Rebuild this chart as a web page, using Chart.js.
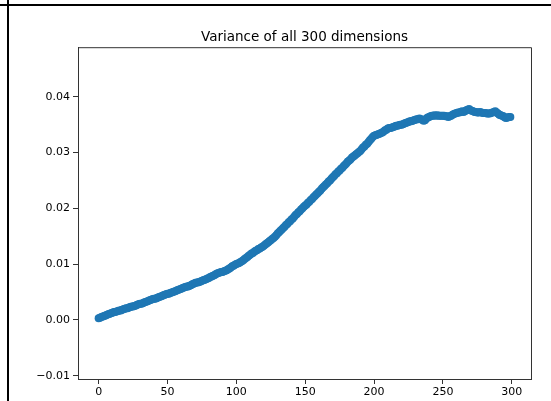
<!DOCTYPE html>
<html>
<head>
<meta charset="utf-8">
<script src="https://cdn.jsdelivr.net/npm/chart.js@4/dist/chart.umd.min.js"></script>
<style>
  html, body { margin: 0; padding: 0; background: #fff; }
  #wrap { position: relative; width: 551px; height: 401px; overflow: hidden; }
  #chart { position: absolute; left: 0; top: 0; }
  .hline { position: absolute; left: 0; top: 4px; width: 551px; height: 2px; background: #000; }
  .vline { position: absolute; left: 7px; top: 0; width: 2px; height: 401px; background: #000; }
</style>
</head>
<body>
<div id="wrap">
  <canvas id="chart" width="551" height="401"></canvas>
  <div class="hline"></div>
  <div class="vline"></div>
</div>
<script>
// variance per step (300 points, step 0..299)
var variance = [
  0.0003, 0.0004, 0.0005, 0.0006, 0.0007, 0.0008, 0.0009, 0.0010, 0.0011, 0.0012,
  0.0013, 0.0014, 0.0014, 0.0015, 0.0016, 0.0017, 0.0017, 0.0018, 0.0019, 0.0020,
  0.0021, 0.0021, 0.0022, 0.0023, 0.0024, 0.0024, 0.0025, 0.0026, 0.0027, 0.0028,
  0.0029, 0.0029, 0.0030, 0.0031, 0.0032, 0.0033, 0.0034, 0.0035, 0.0036, 0.0037,
  0.0038, 0.0038, 0.0039, 0.0040, 0.0041, 0.0042, 0.0043, 0.0044, 0.0045, 0.0046,
  0.0047, 0.0047, 0.0048, 0.0049, 0.0050, 0.0051, 0.0052, 0.0053, 0.0054, 0.0055,
  0.0056, 0.0057, 0.0058, 0.0059, 0.0060, 0.0060, 0.0061, 0.0062, 0.0064, 0.0065,
  0.0066, 0.0067, 0.0067, 0.0068, 0.0069, 0.0070, 0.0071, 0.0072, 0.0073, 0.0074,
  0.0075, 0.0077, 0.0078, 0.0079, 0.0080, 0.0082, 0.0083, 0.0084, 0.0085, 0.0086,
  0.0086, 0.0087, 0.0088, 0.0089, 0.0091, 0.0092, 0.0094, 0.0096, 0.0097, 0.0099,
  0.0100, 0.0101, 0.0102, 0.0104, 0.0105, 0.0107, 0.0109, 0.0111, 0.0113, 0.0115,
  0.0117, 0.0119, 0.0120, 0.0122, 0.0124, 0.0125, 0.0127, 0.0128, 0.0130, 0.0131,
  0.0133, 0.0135, 0.0137, 0.0139, 0.0141, 0.0143, 0.0145, 0.0147, 0.0149, 0.0152,
  0.0155, 0.0157, 0.0160, 0.0162, 0.0165, 0.0167, 0.0170, 0.0172, 0.0175, 0.0177,
  0.0180, 0.0182, 0.0185, 0.0188, 0.0190, 0.0193, 0.0195, 0.0198, 0.0200, 0.0203,
  0.0205, 0.0207, 0.0210, 0.0212, 0.0215, 0.0217, 0.0220, 0.0222, 0.0225, 0.0227,
  0.0230, 0.0232, 0.0235, 0.0238, 0.0240, 0.0243, 0.0245, 0.0248, 0.0250, 0.0253,
  0.0256, 0.0258, 0.0261, 0.0263, 0.0266, 0.0268, 0.0271, 0.0273, 0.0276, 0.0278,
  0.0281, 0.0284, 0.0286, 0.0288, 0.0291, 0.0293, 0.0295, 0.0297, 0.0299, 0.0301,
  0.0303, 0.0306, 0.0309, 0.0311, 0.0314, 0.0316, 0.0319, 0.0322, 0.0325, 0.0328,
  0.0330, 0.0331, 0.0332, 0.0333, 0.0334, 0.0335, 0.0336, 0.0338, 0.0340, 0.0341,
  0.0343, 0.0344, 0.0344, 0.0345, 0.0346, 0.0347, 0.0348, 0.0348, 0.0349, 0.0350,
  0.0350, 0.0351, 0.0352, 0.0353, 0.0354, 0.0355, 0.0356, 0.0356, 0.0357, 0.0358,
  0.0359, 0.0360, 0.0360, 0.0361, 0.0360, 0.0359, 0.0357, 0.0358, 0.0361, 0.0363,
  0.0364, 0.0365, 0.0366, 0.0366, 0.0367, 0.0366, 0.0367, 0.0366, 0.0366, 0.0366,
  0.0366, 0.0366, 0.0365, 0.0365, 0.0364, 0.0365, 0.0366, 0.0368, 0.0369, 0.0370,
  0.0371, 0.0372, 0.0372, 0.0373, 0.0374, 0.0373, 0.0374, 0.0376, 0.0377, 0.0378,
  0.0376, 0.0375, 0.0374, 0.0373, 0.0373, 0.0372, 0.0372, 0.0373, 0.0372, 0.0371,
  0.0371, 0.0371, 0.0370, 0.0370, 0.0370, 0.0371, 0.0372, 0.0373, 0.0374, 0.0372,
  0.0370, 0.0368, 0.0367, 0.0366, 0.0365, 0.0363, 0.0362, 0.0363, 0.0364, 0.0364
];

var xTicks = [0, 50, 100, 150, 200, 250, 300];
var yTicks = [-0.01, 0.00, 0.01, 0.02, 0.03, 0.04];

var points = variance.map(function (v, i) { return { x: i, y: v }; });

// top and right spines (chart.js only draws the axis lines)
var frame = {
  id: "frame",
  afterDraw: function (chart) {
    var a = chart.chartArea, ctx = chart.ctx;
    ctx.save();
    ctx.strokeStyle = "#333";
    ctx.lineWidth = 1;
    ctx.beginPath();
    ctx.moveTo(a.left, a.top + 0.5);
    ctx.lineTo(a.right + 0.5, a.top + 0.5);
    ctx.lineTo(a.right + 0.5, a.bottom);
    ctx.stroke();
    ctx.restore();
  }
};

var tickFont = { family: "DejaVu Sans", size: 11 };

new Chart(document.getElementById("chart").getContext("2d"), {
  type: "scatter",
  data: {
    datasets: [{
      data: points,
      backgroundColor: "#1f77b4",
      borderWidth: 0,
      pointRadius: 4,
      pointHoverRadius: 4
    }]
  },
  options: {
    responsive: false,
    animation: false,
    layout: { padding: { left: 0, right: 20, top: 0, bottom: 0 } },
    plugins: {
      legend: { display: false },
      tooltip: { enabled: false },
      title: {
        display: true,
        fullSize: false,
        text: "Variance of all 300 dimensions",
        color: "#000",
        font: { family: "DejaVu Sans", size: 13.5, weight: "normal" },
        padding: { top: 29, bottom: 2 }
      }
    },
    scales: {
      x: {
        type: "linear",
        min: -15,
        max: 314,
        border: { display: true, color: "#333", width: 1 },
        grid: { display: true, drawOnChartArea: false, drawTicks: true, tickLength: 5, color: "#333" },
        afterBuildTicks: function (s) { s.ticks = xTicks.map(function (v) { return { value: v }; }); },
        afterFit: function (s) { s.height = 22; },
        ticks: {
          color: "#000",
          font: tickFont,
          padding: 2,
          maxRotation: 0,
          callback: function (v) { return String(v); }
        }
      },
      y: {
        type: "linear",
        min: -0.0106,
        max: 0.0489,
        border: { display: true, color: "#333", width: 1 },
        grid: { display: true, drawOnChartArea: false, drawTicks: true, tickLength: 5, color: "#333" },
        afterBuildTicks: function (s) { s.ticks = yTicks.map(function (v) { return { value: v }; }); },
        afterFit: function (s) { s.width = 78; },
        ticks: {
          color: "#000",
          font: tickFont,
          padding: 3,
          callback: function (v) { return v.toFixed(2).replace("-", "\u2212"); }
        }
      }
    }
  },
  plugins: [frame]
});
</script>
</body>
</html>
